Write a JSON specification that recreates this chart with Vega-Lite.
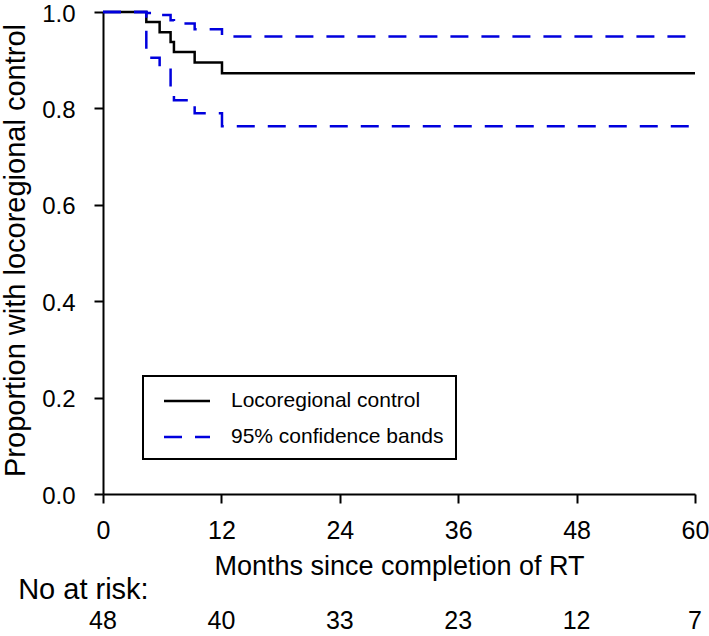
{
  "$schema": "https://vega.github.io/schema/vega-lite/v6.json",
  "width": 592,
  "height": 482,
  "autosize": {"type": "none"},
  "padding": {"left": 103, "top": 12, "right": 14, "bottom": 142},
  "background": "white",
  "config": {
    "view": {"stroke": null},
    "font": "Liberation Sans",
    "axis": {
      "domainColor": "black",
      "domainWidth": 2,
      "tickColor": "black",
      "tickWidth": 2,
      "tickSize": 9,
      "labelFontSize": 25,
      "labelColor": "black",
      "titleFontSize": 27,
      "titleColor": "black",
      "titleFontWeight": "normal",
      "grid": false
    },
    "legend": {"strokeWidth": 2}
  },
  "datasets": {
    "km": [
      {"month": 0, "proportion": 1.0, "series": "Locoregional control", "curve": "estimate"},
      {"month": 4.39, "proportion": 0.979, "series": "Locoregional control", "curve": "estimate"},
      {"month": 5.74, "proportion": 0.958, "series": "Locoregional control", "curve": "estimate"},
      {"month": 6.85, "proportion": 0.938, "series": "Locoregional control", "curve": "estimate"},
      {"month": 7.19, "proportion": 0.917, "series": "Locoregional control", "curve": "estimate"},
      {"month": 9.29, "proportion": 0.895, "series": "Locoregional control", "curve": "estimate"},
      {"month": 12.06, "proportion": 0.873, "series": "Locoregional control", "curve": "estimate"},
      {"month": 60, "proportion": 0.873, "series": "Locoregional control", "curve": "estimate"}
    ],
    "bands": [
      {"month": 0, "proportion": 1.0, "series": "95% confidence bands", "curve": "upper"},
      {"month": 4.39, "proportion": 0.998, "series": "95% confidence bands", "curve": "upper"},
      {"month": 5.74, "proportion": 0.994, "series": "95% confidence bands", "curve": "upper"},
      {"month": 6.85, "proportion": 0.983, "series": "95% confidence bands", "curve": "upper"},
      {"month": 7.19, "proportion": 0.976, "series": "95% confidence bands", "curve": "upper"},
      {"month": 9.29, "proportion": 0.964, "series": "95% confidence bands", "curve": "upper"},
      {"month": 12.06, "proportion": 0.949, "series": "95% confidence bands", "curve": "upper"},
      {"month": 60, "proportion": 0.949, "series": "95% confidence bands", "curve": "upper"},
      {"month": 0, "proportion": 1.0, "series": "95% confidence bands", "curve": "lower"},
      {"month": 4.39, "proportion": 0.905, "series": "95% confidence bands", "curve": "lower"},
      {"month": 5.74, "proportion": 0.885, "series": "95% confidence bands", "curve": "lower"},
      {"month": 6.85, "proportion": 0.845, "series": "95% confidence bands", "curve": "lower"},
      {"month": 7.19, "proportion": 0.817, "series": "95% confidence bands", "curve": "lower"},
      {"month": 9.29, "proportion": 0.790, "series": "95% confidence bands", "curve": "lower"},
      {"month": 12.06, "proportion": 0.763, "series": "95% confidence bands", "curve": "lower"},
      {"month": 60, "proportion": 0.763, "series": "95% confidence bands", "curve": "lower"}
    ],
    "risk": [
      {"month": 0, "n": 48},
      {"month": 12, "n": 40},
      {"month": 24, "n": 33},
      {"month": 36, "n": 23},
      {"month": 48, "n": 12},
      {"month": 60, "n": 7}
    ]
  },
  "layer": [
    {
      "data": {"name": "km"},
      "mark": {"type": "line", "interpolate": "step-after", "strokeWidth": 2.5},
      "encoding": {
        "x": {
          "field": "month", "type": "quantitative",
          "scale": {"domain": [0, 60], "nice": false, "zero": false},
          "axis": {
            "values": [0, 12, 24, 36, 48, 60],
            "title": "Months since completion of RT",
            "labelBaseline": "alphabetic",
            "labelPadding": 35,
            "labelFlush": false,
            "titleBaseline": "alphabetic",
            "titleY": 80
          }
        },
        "y": {
          "field": "proportion", "type": "quantitative",
          "scale": {"domain": [0, 1], "nice": false},
          "axis": {
            "values": [0, 0.2, 0.4, 0.6, 0.8, 1.0],
            "format": ".1f",
            "title": "Proportion with locoregional control",
            "labelPadding": 19,
            "labelFontSize": 24,
            "labelOffset": 2,
            "labelFlush": false,
            "titleBaseline": "alphabetic",
            "titleX": -79,
            "titleY": 238,
            "titleFontSize": 29
          }
        },
        "color": {
          "field": "series", "type": "nominal",
          "scale": {"domain": ["Locoregional control", "95% confidence bands"], "range": ["black", "#0000dd"]},
          "legend": {
            "orient": "none", "legendX": 40, "legendY": 364, "title": null,
            "symbolType": "M-2,0H2", "symbolSize": 529, "symbolStrokeWidth": 2.5,
            "labelFontSize": 21, "labelColor": "black", "labelLimit": 400, "labelOffset": 31, "symbolOffset": 19,
            "rowPadding": 13, "padding": 12, "strokeColor": "black", "fillColor": "white"
          }
        },
        "strokeDash": {
          "field": "series", "type": "nominal",
          "scale": {"domain": ["Locoregional control", "95% confidence bands"], "range": [[1, 0], [18, 13]]},
          "legend": {
            "orient": "none", "legendX": 40, "legendY": 364, "title": null,
            "symbolType": "M-2,0H2", "symbolSize": 529, "symbolStrokeWidth": 2.5,
            "labelFontSize": 21, "labelColor": "black", "labelLimit": 400, "labelOffset": 31, "symbolOffset": 19,
            "rowPadding": 13, "padding": 12, "strokeColor": "black", "fillColor": "white"
          }
        },
        "detail": {"field": "curve", "type": "nominal"}
      }
    },
    {
      "data": {"name": "bands"},
      "mark": {"type": "line", "interpolate": "step-after", "strokeWidth": 2.5},
      "encoding": {
        "x": {"field": "month", "type": "quantitative"},
        "y": {"field": "proportion", "type": "quantitative"},
        "color": {"field": "series", "type": "nominal"},
        "strokeDash": {"field": "series", "type": "nominal"},
        "detail": {"field": "curve", "type": "nominal"}
      }
    },
    {
      "data": {"name": "risk"},
      "mark": {"type": "text", "fontSize": 25, "baseline": "alphabetic", "align": "center", "color": "black"},
      "encoding": {
        "x": {"field": "month", "type": "quantitative"},
        "y": {"datum": -0.28},
        "text": {"field": "n", "type": "quantitative"}
      }
    },
    {
      "data": {"values": [{"label": "No at risk:"}]},
      "mark": {"type": "text", "fontSize": 29, "baseline": "alphabetic", "align": "left", "color": "black"},
      "encoding": {
        "x": {"datum": -8.6},
        "y": {"datum": -0.218},
        "text": {"field": "label", "type": "nominal"}
      }
    }
  ]
}
